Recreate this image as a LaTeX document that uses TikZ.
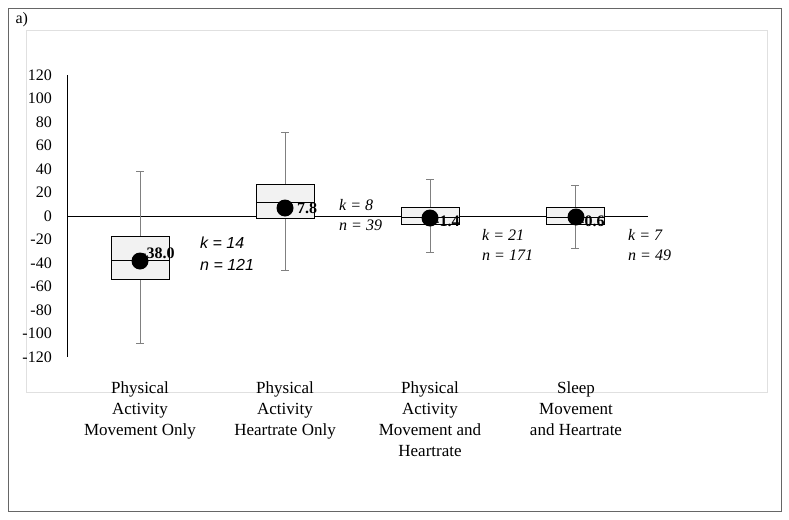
\documentclass[tikz,border=0pt]{standalone}
\usepackage{fontspec}
\setmainfont{Liberation Serif}
\setsansfont{Liberation Sans}
\tikzset{>=stealth}

\begin{document}
\begin{tikzpicture}[x=1pt,y=-1pt,
    box/.style={draw=black,fill=black!5,thick},
    whisk/.style={draw=black!50,thin},
    dot/.style={circle,fill=black,inner sep=0pt,minimum size=17pt},
    val/.style={font=\fontsize{16}{18}\selectfont\bfseries,anchor=west,inner sep=0pt},
    kn/.style={font=\fontsize{16}{20}\selectfont\itshape,align=left,anchor=north west,inner sep=0pt},
    cat/.style={font=\fontsize{17}{21}\selectfont,align=center,anchor=north,inner sep=0pt}]
        \useasboundingbox (0,0) rectangle (789,519);
        \draw[black!60] (8,8) rectangle (781,511);
        \draw[black!12] (26,30) rectangle (767,392);
        \node[anchor=west,font=\fontsize{16}{18}\selectfont] (lbl) at (12,20) {a)};
        % axes
        \draw[thin] (67,75) -- (67,357);
        \draw[thin] (67,216) -- (648,216);
        \foreach \v in {120,100,...,-120}
          \node[anchor=east,font=\fontsize{16}{18}\selectfont,inner sep=0pt] at (52,{216-1.175*\v}) {\v};
        % boxes: x, top, bottom, median, whisker hi, whisker lo
        \foreach \x/\t/\b/\m/\h/\l in {140/-17/-54/-38/38/-108, 285/27/-2/12/71/-46, 430/7/-7/-1/31/-31, 575/7/-7/-1/26/-27}{
          \draw[whisk] (\x,{216-1.175*\h}) -- (\x,{216-1.175*\t});
          \draw[whisk] (\x,{216-1.175*\b}) -- (\x,{216-1.175*\l});
          \draw[whisk] (\x-4,{216-1.175*\h}) -- (\x+4,{216-1.175*\h});
          \draw[whisk] (\x-4,{216-1.175*\l}) -- (\x+4,{216-1.175*\l});
          \draw[box] (\x-29,{216-1.175*\t}) rectangle (\x+29,{216-1.175*\b});
          \draw[thick] (\x-29,{216-1.175*\m}) -- (\x+29,{216-1.175*\m});
        }
        \node[val] (v1) at (141,253) {-38.0};
        \node[val] (v2) at (297,208) {7.8};
        \node[val] (v3) at (434,221) {-1.4};
        \node[val] (v4) at (579,221) {-0.6};
        \node[dot] (d1) at (140,261) {};
        \node[dot] (d2) at (285,208) {};
        \node[dot] (d3) at (430,218) {};
        \node[dot] (d4) at (576,217) {};
        \node[kn,font=\fontsize{16}{22}\selectfont\sffamily\itshape] (kn1) at (200,237) {k = 14\\n = 121};
        \node[kn] (kn2) at (339,199) {k = 8\\n = 39};
        \node[kn] (kn3) at (482,229) {k = 21\\n = 171};
        \node[kn] (kn4) at (628,229) {k = 7\\n = 49};
        % categories
        \node[cat] (c1) at (140,381) {Physical\\Activity\\Movement Only};
        \node[cat] (c2) at (285,381) {Physical\\Activity\\Heartrate Only};
        \node[cat] (c3) at (430,381) {Physical\\Activity\\Movement and\\Heartrate};
        \node[cat] (c4) at (576,381) {Sleep\\Movement\\and Heartrate};
      \end{tikzpicture}
\end{document}
